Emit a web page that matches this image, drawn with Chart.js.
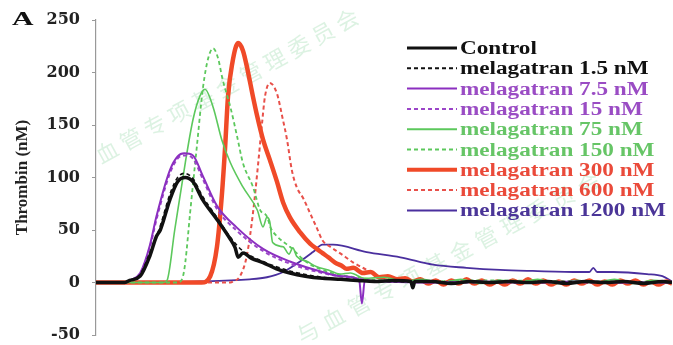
<!DOCTYPE html>
<html>
<head>
<meta charset="utf-8">
<script src="https://cdn.jsdelivr.net/npm/chart.js@4.4.1/dist/chart.umd.min.js"></script>
<style>
  html, body { margin: 0; padding: 0; background: #fff; }
  #wrap { width: 673px; height: 345px; }
</style>
</head>
<body>
<div id="wrap"><canvas id="chartThrombin" width="673" height="345"></canvas></div>
<script>
// time (min) / thrombin (nM)
const seriesLabels = [
  "Control",
  "melagatran 1.5 nM",
  "melagatran 7.5 nM",
  "melagatran 15 nM",
  "melagatran 75 nM",
  "melagatran 150 nM",
  "melagatran 300 nM",
  "melagatran 600 nM",
  "melagatran 1200 nM"
];
const yTicks = [-50, 0, 50, 100, 150, 200, 250];

const control = [[0,0],[3,0],[3.5,2],[4.6,6],[5.6,25],[6.3,44],[6.7,50],[7.7,79],[8.5,96],[9.3,100],[10.1,96],[11.1,79],[12.6,60],[14,41],[14.5,33],[14.8,24],[15.3,28],[16.2,23],[17.4,19],[18.8,13],[20.2,9],[21.8,6],[23.6,4],[25.5,3],[27.2,2],[29,1],[31,2],[32.8,1],[33,-5],[33.2,1],[35,1],[37,-1],[39,1],[41,0],[43,1],[45,0],[47,1],[49,-1],[51,1],[53,0],[55,1],[57,-1],[59,1],[60,0]];
const mel1_5 = [[0,0],[3,0],[3.6,2],[4.6,8],[5.6,28],[6.7,54],[7.7,84],[8.5,100],[9.2,104],[10.1,99],[11.1,82],[12.6,62],[14,43],[15.3,30],[17.4,20],[20.2,11],[23.6,5],[27.2,2],[30,1],[40,0],[50,1],[60,0]];
const mel7_5 = [[0,0],[3,0],[3.5,2],[4.6,9],[5.6,35],[6.3,63],[7.7,107],[8.5,120],[9.2,123],[10.1,121],[11.1,102],[12.6,73],[14.7,52],[17.4,32],[20.2,20],[23.6,10],[25.5,6],[27.4,3],[27.7,-20],[28,2],[30,1],[35,0],[40,1],[45,0],[50,1],[55,0],[60,0]];
const mel15 = [[0,0],[3,0],[3.6,2],[4.6,8],[5.6,33],[6.3,60],[7.7,104],[8.5,118],[9.3,121],[10.1,118],[11.1,99],[12.6,70],[14.7,49],[17.4,30],[20.2,18],[23.6,9],[27,4],[30,1],[40,0],[60,0]];
const mel75 = [[0,0],[7,0],[7.4,2],[8.2,50],[9.3,114],[10.1,155],[10.8,177],[11.35,184],[12.2,167],[13.1,136],[14,114],[15.3,91],[16.8,69],[17.4,53],[17.8,62],[18.1,58],[18.4,38],[19.5,34],[20.1,27],[20.5,33],[20.9,25],[22,20],[23,15],[24.2,12],[25.4,8],[26.5,9],[28,4],[30,5],[32,1],[34,3],[36,0],[38,3],[40,-1],[42,2],[44,0],[46,3],[48,-1],[50,2],[52,0],[54,3],[56,-1],[58,2],[60,0]];
const mel150 = [[0,0],[8.5,0],[9,4],[9.3,19],[9.8,66],[10.5,129],[11.15,186],[11.7,214],[12.2,223],[12.7,214],[13.2,193],[14,167],[14.7,139],[15.3,114],[16.35,91],[17.1,69],[17.8,63],[18.2,52],[18.85,44],[20.2,34],[22,19],[24.4,9.5],[27,5],[30,2],[35,1],[40,2],[50,1],[60,0]];
const mel300 = [[0,0],[11,0],[11.9,6],[12.6,34],[13.1,82],[13.45,129],[13.75,177],[14.2,209],[14.8,228],[15.3,221],[15.8,202],[16.35,177],[16.8,158],[17.4,136],[18.1,117],[18.85,96],[19.5,76],[20.2,62],[21.25,48],[22.3,37],[23,32],[23.6,28],[24.2,24],[24.9,19],[25.6,16],[26.1,13],[26.8,14],[27.8,9],[28.6,10],[29.5,5],[30.4,6],[31.4,3],[32.2,4],[33,1],[33.8,3],[34.6,-1],[35.4,2],[36.2,-2],[37,2],[37.8,-1],[38.6,3],[39.4,-1],[40.2,2],[41,-2],[41.8,1],[42.6,-2],[43.4,2],[44.2,-1],[45,3],[45.8,-1],[46.6,2],[47.4,-2],[48.2,1],[49,-2],[49.8,2],[50.6,-1],[51.4,2],[52.2,-2],[53,1],[53.8,-2],[54.6,2],[55.4,-1],[56.2,2],[57,-2],[57.8,1],[58.6,-2],[59.4,1],[60,-1]];
const mel600 = [[0,0],[14,0],[14.3,1],[15,6],[15.7,25],[16.35,66],[16.9,114],[17.3,152],[17.6,177],[18.1,190],[18.85,180],[19.4,158],[19.9,136],[20.4,107],[20.9,91],[21.6,80],[22.3,66],[23,52],[23.6,40],[24.4,34],[25.4,28],[26.8,19],[28.2,12],[29.6,5],[31,3],[33,2],[36,1],[45,0],[60,0]];
const mel1200 = [[0,0],[10.8,1],[16,3],[17.8,5],[19.5,10],[21.25,20],[22.6,29],[23.6,36],[24.7,36],[28.2,29],[31.7,24],[35.1,17],[38.6,14],[42.1,12],[45.5,11],[50.4,10],[51.4,10],[51.8,14],[52.2,10],[53.9,10],[57.4,8],[59,6],[60,1]];

const seriesData = [control, mel1_5, mel7_5, mel15, mel75, mel150, mel300, mel600, mel1200];

const lineColors = ["#111111", "#111111", "#8b2fc0", "#9b45c8", "#5cc85c", "#5cc85c", "#f04a28", "#e8504a", "#4a2f9e"];
const textColors = ["#111111", "#111111", "#9a4cc4", "#9a4cc4", "#66c566", "#66c566", "#ea4a3a", "#ea4a3a", "#4b3598"];
const lineWidths = [3.5, 1.6, 2, 2, 1.6, 1.8, 4.5, 2, 1.8];
const dashes = [[], [4, 3], [], [4, 3], [], [4, 3], [], [4, 3], []];

const WATERMARK = "血管专项基金管理委员会";
const WATERMARK2 = "与血管专项基金管理委员会";

const SERIF = "'Liberation Serif', 'Times New Roman', serif";

function drawWatermark(ctx, text, x0, y0, dx, dy, angle) {
  ctx.save();
  ctx.fillStyle = "rgba(130, 210, 150, 0.28)";
  ctx.font = "22px 'Noto Sans CJK SC'";
  ctx.textAlign = "center";
  ctx.textBaseline = "middle";
  [...text].forEach((ch, i) => {
    ctx.save();
    ctx.translate(x0 + dx * i, y0 + dy * i);
    ctx.rotate(angle);
    ctx.fillText(ch, 0, 0);
    ctx.restore();
  });
  ctx.restore();
}

function stretchedText(ctx, text, x, y, sx) {
  ctx.save();
  ctx.translate(x, y);
  ctx.scale(sx, 1);
  ctx.fillText(text, 0, 0);
  ctx.restore();
}

const figurePlugin = {
  id: "figurePlugin",
  beforeDatasetsDraw(chart) {
    const { ctx } = chart;
    drawWatermark(ctx, WATERMARK, 107, 152, 24, -13.2, -0.5);
    drawWatermark(ctx, WATERMARK2, 308, 332, 25.5, -13.5, -0.5);
  },
  afterDraw(chart) {
    const { ctx } = chart;
    ctx.save();

    // panel letter
    ctx.fillStyle = "#111";
    ctx.font = "bold 19px " + SERIF;
    ctx.textBaseline = "alphabetic";
    const aw = ctx.measureText("A").width;
    stretchedText(ctx, "A", 12, 24.5, 21.5 / aw);

    // legend
    ctx.font = "bold 18px " + SERIF;
    const stretch = 206 / ctx.measureText(seriesLabels[8]).width;
    chart.data.datasets.forEach((ds, i) => {
      const y = 48 + i * 20.3;
      ctx.strokeStyle = ds.borderColor;
      ctx.lineWidth = i === 0 ? 3 : i === 6 ? 4 : 2;
      ctx.setLineDash(ds.borderDash || []);
      ctx.beginPath();
      ctx.moveTo(407, y);
      ctx.lineTo(457, y);
      ctx.stroke();
      ctx.setLineDash([]);
      ctx.fillStyle = textColors[i];
      stretchedText(ctx, ds.label, 460, y + 6, stretch);
    });

    ctx.restore();
  }
};

const canvas = document.getElementById("chartThrombin");

new Chart(canvas, {
  type: "line",
  data: {
    datasets: seriesData.map((pts, i) => ({
      label: seriesLabels[i],
      data: pts.map(([x, y]) => ({ x, y })),
      borderColor: lineColors[i],
      borderWidth: lineWidths[i],
      borderDash: dashes[i],
      pointRadius: 0,
      fill: false,
      cubicInterpolationMode: "monotone"
    }))
  },
  options: {
    responsive: false,
    animation: false,
    devicePixelRatio: 1,
    layout: {
      padding: { left: 0, right: 1, top: 20, bottom: 10 }
    },
    plugins: {
      legend: { display: false },
      tooltip: { enabled: false }
    },
    scales: {
      x: {
        type: "linear",
        min: 0,
        max: 60,
        display: false
      },
      y: {
        min: -50,
        max: 250,
        afterFit(scale) {
          scale.width = 96;
          scale.paddingTop = 0;
          scale.paddingBottom = 0;
        },
        afterBuildTicks(scale) {
          scale.ticks = yTicks.map((v) => ({ value: v }));
        },
        border: { display: true, color: "#999", width: 1.2 },
        grid: {
          drawOnChartArea: false,
          drawTicks: true,
          tickLength: 4,
          color: "#999"
        },
        ticks: {
          padding: 12,
          color: "#222",
          font: { family: "'DejaVu Serif'", weight: "bold", size: 16 }
        },
        title: {
          display: true,
          text: "Thrombin (nM)",
          color: "#222",
          font: { family: "'Liberation Serif'", weight: "bold", size: 17 },
          padding: { top: 12, bottom: 0 }
        }
      }
    }
  },
  plugins: [figurePlugin]
});
</script>
</body>
</html>
